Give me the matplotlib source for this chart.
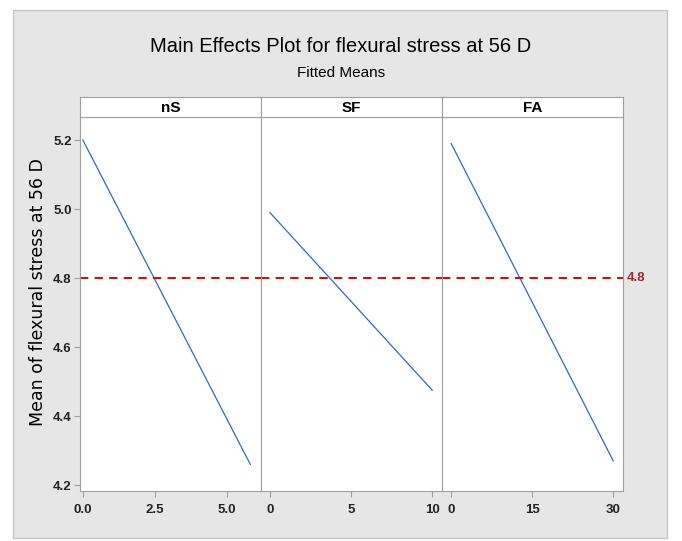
import matplotlib.pyplot as plt
from matplotlib.patches import Rectangle

# data
factors = ["nS", "SF", "FA"]
levels = [[0.0, 5.8], [0, 10], [0, 30]]
means = [[5.20, 4.26], [4.99, 4.475], [5.19, 4.27]]
xticks = [[0.0, 2.5, 5.0], [0, 5, 10], [0, 15, 30]]
xticklabels = [["0.0", "2.5", "5.0"], ["0", "5", "10"], ["0", "15", "30"]]
xlims = [(-0.1, 6.17), (-0.55, 10.6), (-1.7, 31.8)]
grand_mean = 4.8

plt.rcParams['font.family'] = ['Liberation Sans', 'DejaVu Sans']

fig = plt.figure(figsize=(6.82, 5.41), dpi=100)
fig.patch.set_facecolor("white")
fig.patches.append(Rectangle((13/682, 1-538/541), 654/682, 528/541, transform=fig.transFigure,
                             facecolor="#e6e6e6", edgecolor="#c8c8c8", lw=1, zorder=-10))

left, right = 80/682, 623/682
bottom, top, htop = 1-491/541, 1-117/541, 1-97/541
w = (right - left) / 3
gray = "#a0a0a0"

for i, f in enumerate(factors):
    ax = fig.add_axes([left + i*w, bottom, w, top - bottom])
    ax.plot(levels[i], means[i], color="#2e6bbf", lw=0.9)
    ax.axhline(grand_mean, color="#cc1111", ls=(0, (4, 3)), lw=1.5)
    ax.set_xlim(xlims[i])
    ax.set_ylim(4.183, 5.267)
    ax.set_xticks(xticks[i])
    ax.set_xticklabels(xticklabels[i], fontsize=9.5, fontweight="bold")
    for s in ax.spines.values():
        s.set_color(gray)
    ax.tick_params(color=gray, length=4.5, labelcolor="#222222")
    ax.tick_params(axis="y", pad=1.5)
    ax.tick_params(axis="x", pad=5)
    if i == 0:
        ax.set_yticks([4.2, 4.4, 4.6, 4.8, 5.0, 5.2])
        ax.set_yticklabels(["4.2", "4.4", "4.6", "4.8", "5.0", "5.2"], fontsize=9.5, fontweight="bold")
    else:
        ax.set_yticks([])
    hx = fig.add_axes([left + i*w, top, w, htop - top])
    hx.set_xticks([])
    hx.set_yticks([])
    for s in hx.spines.values():
        s.set_color(gray)
    hx.text(0.5, 0.45, f, ha="center", va="center", fontsize=11, fontweight="bold", transform=hx.transAxes)

ax.text(1.02, grand_mean, "4.8", transform=ax.get_yaxis_transform(), color="#a02828",
        fontsize=9.5, fontweight="bold", va="center")

fig.text(0.5, 1-46/541, "Main Effects Plot for flexural stress at 56 D", ha="center", va="center", fontsize=14.5)
fig.text(0.5, 1-73/541, "Fitted Means", ha="center", va="center", fontsize=11)
fig.text(38/682, 1-292/541, "Mean of flexural stress at 56 D", rotation=90, ha="center", va="center",
         fontsize=12.5, family="DejaVu Sans")

fig.savefig("out.png", dpi=100)
